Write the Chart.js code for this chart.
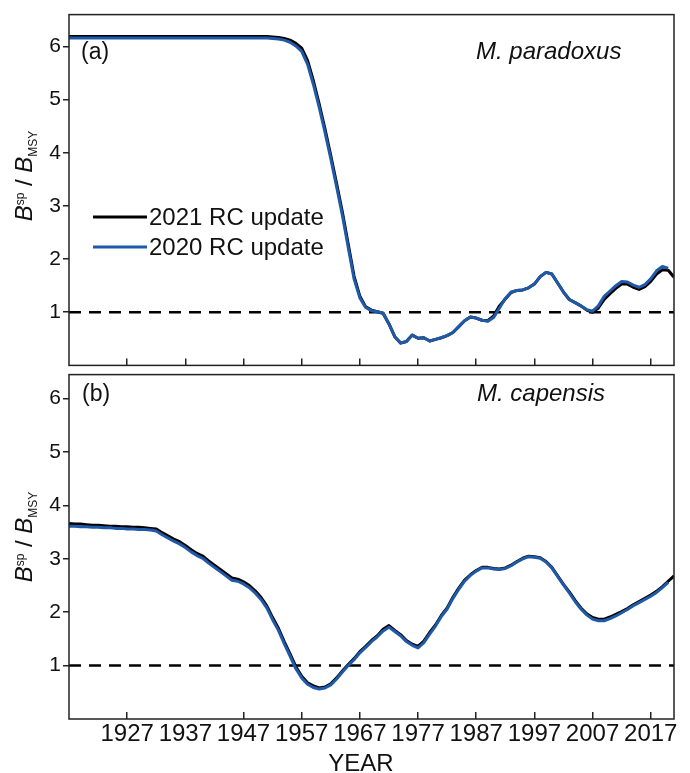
<!DOCTYPE html>
<html>
<head>
<meta charset="utf-8">
<title>Spawning biomass relative to BMSY</title>
<script src="https://cdn.jsdelivr.net/npm/chart.js@4.4.1/dist/chart.umd.min.js"></script>
<style>
  html, body { margin: 0; padding: 0; background: #fff; }
  #wrap { position: relative; width: 690px; height: 773px; }
  canvas { position: absolute; left: 0; }
  #top-chart { top: 0; }
  #bottom-chart { top: 360px; }
</style>
</head>
<body>
<div id="wrap">
  <canvas id="top-chart" width="690" height="380"></canvas>
  <canvas id="bottom-chart" width="690" height="413"></canvas>
</div>
<script>
const FONT = "'Liberation Sans', Arial, sans-serif";
const INK = "#111";
const AXIS = "#222";

// Years of the assessment run
const firstYear = 1917;
const lastYear = 2021;
const years = [];
for (let y = firstYear; y <= lastYear; y++) years.push(y);

const yearTicks = [1927, 1937, 1947, 1957, 1967, 1977, 1987, 1997, 2007, 2017];
const ratioTicks = [1, 2, 3, 4, 5, 6];

// B_MSY reference level
const refYears = [1917, 2021];
const refLevel = [1, 1];

// M. paradoxus, Bsp/BMSY (2021 RC runs to 2021, 2020 RC to 2020)
const paradoxus2021 = [
  6.19, 6.19, 6.19, 6.19, 6.19, 6.19, 6.19, 6.19, 6.19, 6.19,
  6.19, 6.19, 6.19, 6.19, 6.19, 6.19, 6.19, 6.19, 6.19, 6.19,
  6.19, 6.19, 6.19, 6.19, 6.19, 6.19, 6.19, 6.19, 6.19, 6.19,
  6.19, 6.19, 6.19, 6.19, 6.19, 6.18, 6.17, 6.15, 6.12, 6.06,
  5.97, 5.74, 5.36, 4.92, 4.45, 3.95, 3.42, 2.88, 2.28, 1.68,
  1.30, 1.10, 1.04, 1.01, 0.98, 0.78, 0.54, 0.42, 0.45, 0.57,
  0.51, 0.52, 0.46, 0.49, 0.52, 0.56, 0.62, 0.73, 0.84, 0.91,
  0.89, 0.85, 0.84, 0.93, 1.12, 1.25, 1.37, 1.41, 1.42, 1.46,
  1.53, 1.67, 1.75, 1.72, 1.55, 1.38, 1.24, 1.18, 1.12, 1.04,
  1.00, 1.08, 1.24, 1.35, 1.45, 1.53, 1.53, 1.47, 1.43, 1.48,
  1.58, 1.72, 1.80, 1.79, 1.66
];
const paradoxus2020 = [
  6.16, 6.16, 6.16, 6.16, 6.16, 6.16, 6.16, 6.16, 6.16, 6.16,
  6.16, 6.16, 6.16, 6.16, 6.16, 6.16, 6.16, 6.16, 6.16, 6.16,
  6.16, 6.16, 6.16, 6.16, 6.16, 6.16, 6.16, 6.16, 6.16, 6.16,
  6.16, 6.16, 6.16, 6.16, 6.16, 6.15, 6.14, 6.12, 6.08, 6.01,
  5.91, 5.67, 5.29, 4.86, 4.39, 3.89, 3.36, 2.82, 2.22, 1.63,
  1.27, 1.09, 1.03, 1.01, 0.98, 0.78, 0.54, 0.42, 0.45, 0.57,
  0.51, 0.52, 0.46, 0.49, 0.52, 0.56, 0.62, 0.73, 0.84, 0.91,
  0.89, 0.85, 0.83, 0.90, 1.08, 1.26, 1.38, 1.41, 1.42, 1.46,
  1.53, 1.67, 1.75, 1.72, 1.55, 1.38, 1.24, 1.18, 1.12, 1.05,
  1.02, 1.12, 1.30, 1.40, 1.50, 1.58, 1.57, 1.51, 1.47, 1.52,
  1.63, 1.78, 1.86, 1.83
];

// M. capensis, Bsp/BMSY
const capensis2021 = [
  3.66, 3.65, 3.65, 3.64, 3.63, 3.63, 3.62, 3.61, 3.61, 3.60,
  3.60, 3.59, 3.59, 3.58, 3.57, 3.56, 3.49, 3.43, 3.37, 3.32,
  3.25, 3.17, 3.10, 3.05, 2.96, 2.88, 2.80, 2.72, 2.64, 2.62,
  2.57, 2.50, 2.40, 2.28, 2.12, 1.90, 1.70, 1.45, 1.22, 0.98,
  0.80, 0.68, 0.62, 0.58, 0.60, 0.66, 0.77, 0.90, 1.02, 1.13,
  1.26, 1.36, 1.47, 1.56, 1.68, 1.75, 1.66, 1.58, 1.47, 1.40,
  1.36, 1.46, 1.62, 1.76, 1.94, 2.08, 2.28, 2.45, 2.60, 2.70,
  2.78, 2.84, 2.84, 2.82, 2.81, 2.83, 2.88, 2.95, 3.01, 3.05,
  3.04, 3.02, 2.95, 2.84, 2.68, 2.52, 2.38, 2.22, 2.08, 1.97,
  1.90, 1.87, 1.87, 1.91, 1.96, 2.01, 2.07, 2.14, 2.20, 2.26,
  2.32, 2.39, 2.48, 2.58, 2.68
];
const capensis2020 = [
  3.61, 3.61, 3.60, 3.60, 3.59, 3.59, 3.58, 3.58, 3.57, 3.57,
  3.56, 3.56, 3.55, 3.55, 3.54, 3.52, 3.45, 3.39, 3.33, 3.28,
  3.21, 3.13, 3.06, 3.01, 2.92, 2.84, 2.76, 2.68, 2.60, 2.58,
  2.53, 2.46, 2.36, 2.24, 2.08, 1.86, 1.66, 1.41, 1.18, 0.94,
  0.77, 0.65, 0.59, 0.56, 0.58, 0.64, 0.75, 0.88, 1.00, 1.11,
  1.24, 1.34, 1.45, 1.54, 1.65, 1.72, 1.64, 1.56, 1.45, 1.38,
  1.33, 1.43, 1.59, 1.74, 1.92, 2.06, 2.26, 2.43, 2.58, 2.69,
  2.77, 2.83, 2.83, 2.81, 2.80, 2.82, 2.87, 2.94, 3.00, 3.04,
  3.03, 3.01, 2.94, 2.83, 2.67, 2.51, 2.36, 2.20, 2.06, 1.95,
  1.87, 1.84, 1.84, 1.88, 1.93, 1.99, 2.05, 2.12, 2.18, 2.24,
  2.30, 2.37, 2.46, 2.56
];

Chart.defaults.font.family = FONT;
Chart.defaults.color = INK;

const toPoints = (vals) => vals.map((v, i) => ({ x: years[i], y: v }));

function buildDatasets(rc2021, rc2020) {
  const line = { pointRadius: 0, tension: 0, fill: false, borderJoinStyle: "round" };
  return [
    { ...line, label: "2021 RC update", data: toPoints(rc2021), borderColor: "#000", borderWidth: 3, order: 1, inKey: true },
    { ...line, label: "2020 RC update", data: toPoints(rc2020), borderColor: "#1f5aa8", borderWidth: 3, order: 0, inKey: true },
    { ...line, label: "BMSY", data: refYears.map((x, i) => ({ x, y: refLevel[i] })),
      borderColor: "#000", borderWidth: 2.5, borderDash: [12, 8], order: 2 }
  ];
}

// Bsp / BMSY written with super- and subscripts, rotated up the left side
function drawRatioTitle(ctx, x, y) {
  const parts = [
    { t: "B", font: `italic 24px ${FONT}`, dy: 0 },
    { t: "sp", font: `12px ${FONT}`, dy: -8 },
    { t: " / ", font: `24px ${FONT}`, dy: 0 },
    { t: "B", font: `italic 24px ${FONT}`, dy: 0 },
    { t: "MSY", font: `12px ${FONT}`, dy: 5 }
  ];
  let total = 0;
  parts.forEach((p) => { ctx.font = p.font; p.w = ctx.measureText(p.t).width; total += p.w; });
  ctx.save();
  ctx.translate(x, y);
  ctx.rotate(-Math.PI / 2);
  ctx.textBaseline = "alphabetic";
  ctx.textAlign = "left";
  let cx = -total / 2;
  parts.forEach((p) => {
    ctx.font = p.font;
    ctx.fillText(p.t, cx, p.dy);
    cx += p.w;
  });
  ctx.restore();
}

// Frame, panel tags, axis titles and key
const panelDecor = {
  id: "panelDecor",
  afterDatasetsDraw(chart, args, opts) {
    const { ctx, chartArea: a } = chart;
    ctx.save();
    ctx.strokeStyle = AXIS;
    ctx.lineWidth = 1.5;
    ctx.strokeRect(a.left, a.top, a.right - a.left, a.bottom - a.top);

    ctx.fillStyle = INK;
    ctx.textBaseline = "alphabetic";
    ctx.textAlign = "left";
    ctx.font = `23px ${FONT}`;
    ctx.fillText(opts.tag, opts.tagX, opts.textY);
    ctx.font = `italic 24px ${FONT}`;
    ctx.fillText(opts.species, opts.speciesX, opts.textY);

    drawRatioTitle(ctx, opts.titleX, opts.titleY);

    if (opts.key) {
      ctx.font = `24px ${FONT}`;
      ctx.textBaseline = "middle";
      chart.data.datasets.filter((d) => d.inKey).forEach((d, i) => {
        const ky = opts.key.y + i * opts.key.gap;
        ctx.strokeStyle = d.borderColor;
        ctx.lineWidth = d.borderWidth;
        ctx.beginPath();
        ctx.moveTo(opts.key.x, ky);
        ctx.lineTo(opts.key.x + opts.key.len, ky);
        ctx.stroke();
        ctx.fillText(d.label, opts.key.x + opts.key.len + 2, ky + 1);
      });
    }

    if (opts.xTitle) {
      ctx.font = `24px ${FONT}`;
      ctx.textAlign = "center";
      ctx.textBaseline = "alphabetic";
      ctx.fillText(opts.xTitle.text, opts.xTitle.x, opts.xTitle.y);
    }
    ctx.restore();
  }
};

function makeChart(canvasId, datasets, cfg) {
  return new Chart(document.getElementById(canvasId), {
    type: "line",
    data: { datasets },
    plugins: [panelDecor],
    options: {
      responsive: false,
      animation: false,
      events: [],
      devicePixelRatio: 1,
      layout: { padding: { left: 0, right: 16, top: cfg.padTop, bottom: 0 } },
      plugins: {
        legend: { display: false },
        tooltip: { enabled: false },
        panelDecor: cfg.decor
      },
      scales: {
        x: {
          type: "linear",
          min: firstYear,
          max: lastYear,
          afterBuildTicks: (s) => { s.ticks = yearTicks.map((v) => ({ value: v })); },
          afterFit: (s) => { s.height = cfg.xHeight; },
          border: { display: false },
          grid: {
            drawOnChartArea: false,
            tickLength: -7,
            lineWidth: 1.5,
            tickColor: (c) => (c.tick && cfg.skipTicks.includes(c.tick.value) ? "rgba(0,0,0,0)" : AXIS)
          },
          ticks: {
            display: cfg.xLabels,
            padding: 8,
            maxRotation: 0,
            autoSkip: false,
            font: { size: 24 },
            callback: (v) => String(v)
          }
        },
        y: {
          min: 0,
          max: cfg.yMax,
          afterBuildTicks: (s) => { s.ticks = ratioTicks.map((v) => ({ value: v })); },
          afterFit: (s) => { s.width = 69; },
          border: { display: false },
          grid: { drawOnChartArea: false, tickLength: 6, lineWidth: 1.5, tickColor: AXIS },
          ticks: { padding: 2, font: { size: 21 } }
        }
      }
    }
  });
}

makeChart("top-chart", buildDatasets(paradoxus2021, paradoxus2020), {
  padTop: 11,
  xHeight: 11,
  yMax: 6.6,
  xLabels: false,
  skipTicks: [],
  decor: {
    tag: "(a)", tagX: 81, species: "M. paradoxus", speciesX: 476, textY: 59,
    titleX: 32, titleY: 176,
    key: { x: 93, y: 217, gap: 30, len: 54 }
  }
});

makeChart("bottom-chart", buildDatasets(capensis2021, capensis2020), {
  padTop: 9,
  xHeight: 54,
  yMax: 6.45,
  xLabels: true,
  skipTicks: [1937],
  decor: {
    tag: "(b)", tagX: 82, species: "M. capensis", speciesX: 477, textY: 41,
    titleX: 32, titleY: 177,
    xTitle: { text: "YEAR", x: 361, y: 411 }
  }
});
</script>
</body>
</html>
